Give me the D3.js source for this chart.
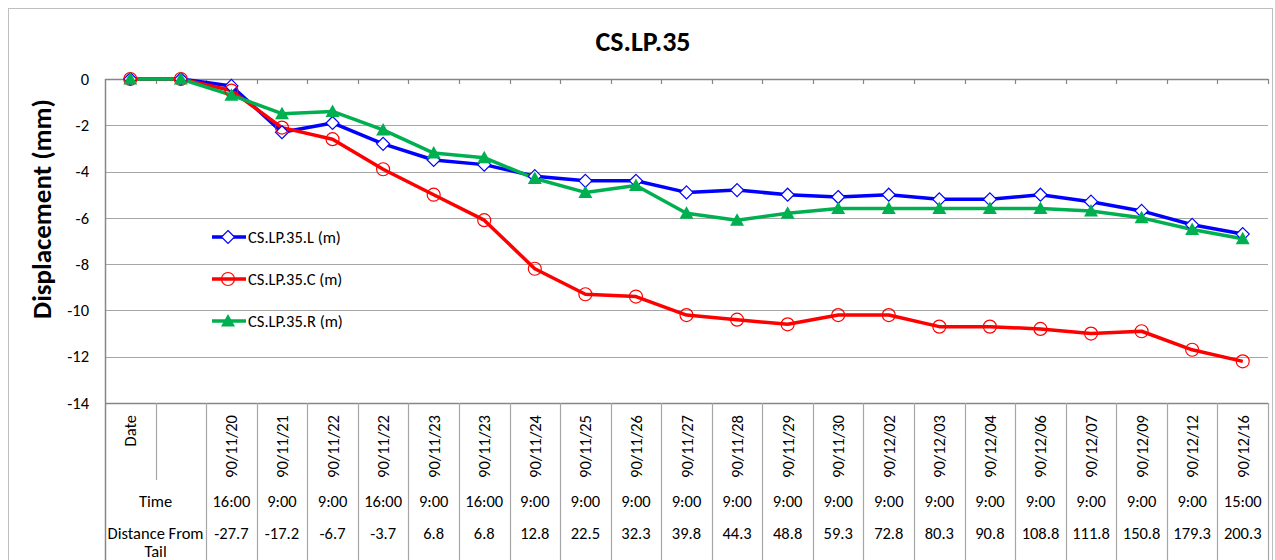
<!DOCTYPE html>
<html>
<head>
<meta charset="utf-8">
<script src="https://cdn.jsdelivr.net/npm/d3@7"></script>
<style>
  body { margin: 0; background: #fff; }
  svg text { font-family: Carlito, Calibri, Lato, "Open Sans", sans-serif; fill: #000; }
</style>
</head>
<body>
<svg id="chart" width="1275" height="560"></svg>
<script>
// data
var dates = ['Date', '', '90/11/20', '90/11/21', '90/11/22', '90/11/22', '90/11/23', '90/11/23', '90/11/24', '90/11/25',
  '90/11/26', '90/11/27', '90/11/28', '90/11/29', '90/11/30', '90/12/02', '90/12/03', '90/12/04', '90/12/06',
  '90/12/07', '90/12/09', '90/12/12', '90/12/16']
var times = ['', '', '16:00', '9:00', '9:00', '16:00', '9:00', '16:00', '9:00', '9:00', '9:00', '9:00', '9:00', '9:00',
  '9:00', '9:00', '9:00', '9:00', '9:00', '9:00', '9:00', '9:00', '15:00']
var distances = ['', '', '-27.7', '-17.2', '-6.7', '-3.7', '6.8', '6.8', '12.8', '22.5', '32.3', '39.8', '44.3', '48.8',
  '59.3', '72.8', '80.3', '90.8', '108.8', '111.8', '150.8', '179.3', '200.3']
var seriesL = [0, 0, -0.3, -2.3, -1.9, -2.8, -3.5, -3.7, -4.2, -4.4, -4.4, -4.9, -4.8, -5.0, -5.1, -5.0, -5.2, -5.2, -5.0, -5.3, -5.7, -6.3, -6.7]
var seriesC = [0, 0, -0.5, -2.1, -2.6, -3.9, -5.0, -6.1, -8.2, -9.3, -9.4, -10.2, -10.4, -10.6, -10.2, -10.2, -10.7, -10.7, -10.8, -11.0, -10.9, -11.7, -12.2]
var seriesR = [0, 0, -0.7, -1.5, -1.4, -2.2, -3.2, -3.4, -4.3, -4.9, -4.6, -5.8, -6.1, -5.8, -5.6, -5.6, -5.6, -5.6, -5.6, -5.7, -6.0, -6.5, -6.9]
var yTicks = [0, -2, -4, -6, -8, -10, -12, -14]
var seriesNames = ['CS.LP.35.L (m)', 'CS.LP.35.C (m)', 'CS.LP.35.R (m)']

var series = [
  {name: seriesNames[0], values: seriesL, color: '#0000ff', marker: 'diamond'},
  {name: seriesNames[1], values: seriesC, color: '#ff0000', marker: 'circle'},
  {name: seriesNames[2], values: seriesR, color: '#00b050', marker: 'triangle'}
]

var svg = d3.select('#chart')
var pLeft = 105, pRight = 1268, pTop = 79, pBottom = 403
var fs = '16.5px'

var x = d3.scaleBand().domain(d3.range(dates.length)).range([pLeft, pRight])
var y = d3.scaleLinear().domain([-14, 0]).range([pBottom, pTop])

// chart frame
svg.append('rect').attr('x', 8.5).attr('y', 8.5).attr('width', 1264).attr('height', 560)
  .attr('fill', 'none').attr('stroke', '#bfbfbf')

// title
svg.append('text').attr('x', 643).attr('y', 51).attr('text-anchor', 'middle')
  .style('font-size', '28px').style('font-weight', 'bold').text('CS.LP.35')

// y axis title
svg.append('text').attr('transform', 'translate(51,' + 209 + ') rotate(-90)')
  .attr('text-anchor', 'middle').style('font-size', '27px').style('font-weight', 'bold')
  .text('Displacement (mm)')

// gridlines
svg.append('g').selectAll('line').data(yTicks.filter(function(d) { return d < 0 && d > -14 }))
  .enter().append('line')
  .attr('x1', pLeft).attr('x2', pRight)
  .attr('y1', function(d) { return Math.round(y(d)) + 0.5 })
  .attr('y2', function(d) { return Math.round(y(d)) + 0.5 })
  .attr('stroke', '#a6a6a6').attr('stroke-width', 1.2)

// y axis (hyphen minus like the original, not the unicode one)
var yAxis = svg.append('g').attr('transform', 'translate(' + pLeft + ',0)')
  .call(d3.axisLeft(y).tickValues(yTicks).tickSize(0).tickPadding(16).tickFormat(function(d) { return String(d) }))
yAxis.select('.domain').remove()
yAxis.selectAll('text').style('font-size', fs)
svg.append('line').attr('x1', pLeft + 0.5).attr('x2', pLeft + 0.5).attr('y1', pTop).attr('y2', 560)
  .attr('stroke', '#868686').attr('stroke-width', 1.5)

// category axis at y = 0, ticks at band edges
var edges = d3.range(dates.length + 1).map(function(i) { return pLeft + i * x.bandwidth() })
svg.append('line').attr('x1', pLeft).attr('x2', pRight).attr('y1', y(0) + 0.5).attr('y2', y(0) + 0.5)
  .attr('stroke', '#868686').attr('stroke-width', 1.5)
svg.append('g').selectAll('line').data(edges.slice(1))
  .enter().append('line')
  .attr('x1', function(d) { return Math.round(d) + 0.5 }).attr('x2', function(d) { return Math.round(d) + 0.5 })
  .attr('y1', y(0)).attr('y2', y(0) + 5)
  .attr('stroke', '#868686').attr('stroke-width', 1.2)

// data table under the plot
var table = svg.append('g')
table.append('line').attr('x1', pLeft).attr('x2', pRight).attr('y1', pBottom + 0.5).attr('y2', pBottom + 0.5)
  .attr('stroke', '#868686').attr('stroke-width', 1.5)
table.selectAll('line.col').data(edges.slice(1))
  .enter().append('line').attr('class', 'col')
  .attr('x1', function(d) { return Math.round(d) + 0.5 }).attr('x2', function(d) { return Math.round(d) + 0.5 })
  .attr('y1', pBottom).attr('y2', function(d, i) { return i == 0 ? 480 : 560 })
  .attr('stroke', '#a6a6a6').attr('stroke-width', 1.2)

table.selectAll('text.date').data(dates)
  .enter().append('text').attr('class', 'date')
  .attr('transform', function(d, i) {
    return 'translate(' + (x(i) + x.bandwidth() / 2 + 6) + ',' + (pBottom + 12) + ') rotate(-90)'
  })
  .attr('text-anchor', 'end').style('font-size', fs).text(String)

table.selectAll('text.time').data(times)
  .enter().append('text').attr('class', 'time')
  .attr('x', function(d, i) { return x(i) + x.bandwidth() / 2 }).attr('y', 507)
  .attr('text-anchor', 'middle').style('font-size', fs).text(String)

table.selectAll('text.dist').data(distances)
  .enter().append('text').attr('class', 'dist')
  .attr('x', function(d, i) { return x(i) + x.bandwidth() / 2 }).attr('y', 539)
  .attr('text-anchor', 'middle').style('font-size', fs).text(String)

var headX = x(1)
table.append('text').attr('x', headX).attr('y', 507).attr('text-anchor', 'middle')
  .style('font-size', fs).text('Time')
table.append('text').attr('x', headX).attr('y', 539).attr('text-anchor', 'middle')
  .style('font-size', fs).text('Distance From')
table.append('text').attr('x', headX).attr('y', 557).attr('text-anchor', 'middle')
  .style('font-size', fs).text('Tail')

// markers
function drawMarker(sel, kind, color) {
  if (kind == 'diamond') {
    sel.append('path').attr('d', 'M0,-6.5L6.5,0L0,6.5L-6.5,0Z')
      .attr('fill', '#fff').attr('stroke', color).attr('stroke-width', 1.2)
  } else if (kind == 'circle') {
    sel.append('circle').attr('r', 6.5)
      .attr('fill', 'none').attr('stroke', color).attr('stroke-width', 1.2)
  } else {
    sel.append('path').attr('d', 'M0,-7L7,5.5L-7,5.5Z').attr('fill', color)
  }
}

var line = d3.line()
  .x(function(d, i) { return x(i) + x.bandwidth() / 2 })
  .y(function(d) { return y(d) })

var plot = svg.append('g')
series.forEach(function(s) {
  plot.append('path').datum(s.values).attr('d', line)
    .attr('fill', 'none').attr('stroke', s.color).attr('stroke-width', 3.5).attr('stroke-linejoin', 'round')
})
series.forEach(function(s) {
  plot.selectAll(null).data(s.values).enter().append('g')
    .attr('transform', function(d, i) { return 'translate(' + (x(i) + x.bandwidth() / 2) + ',' + y(d) + ')' })
    .each(function() { drawMarker(d3.select(this), s.marker, s.color) })
})

// legend
var legend = svg.append('g').attr('transform', 'translate(212,237)')
var items = legend.selectAll('g').data(series).enter().append('g')
  .attr('transform', function(d, i) { return 'translate(0,' + (i * 42) + ')' })
items.append('line').attr('x1', 0).attr('x2', 34).attr('stroke', function(d) { return d.color }).attr('stroke-width', 3.5)
items.append('g').attr('transform', 'translate(16,0)')
  .each(function(d) { drawMarker(d3.select(this), d.marker, d.color) })
items.append('text').attr('x', 36).attr('dy', '0.35em').style('font-size', fs).text(function(d) { return d.name })
</script>
</body>
</html>
